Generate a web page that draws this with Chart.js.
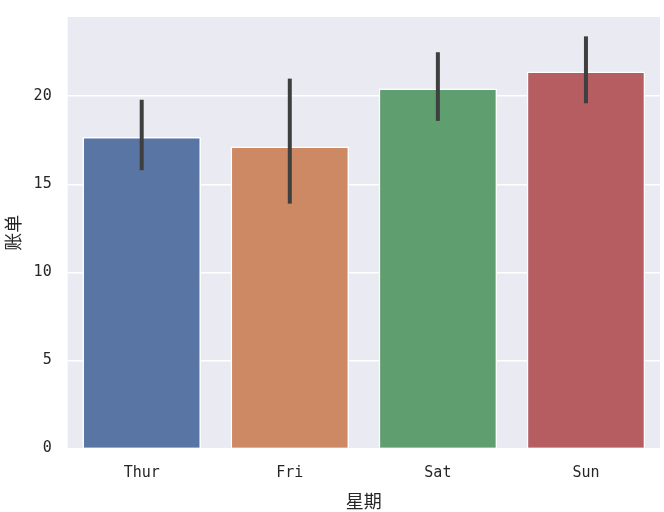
<!DOCTYPE html>
<html>
<head>
<meta charset="utf-8">
<script src="https://cdn.jsdelivr.net/npm/chart.js@4"></script>
<style>
  html, body { margin: 0; padding: 0; background: #fff; }
  #wrap { width: 664px; height: 512px; }
</style>
</head>
<body>
<div id="wrap"><canvas id="chart"></canvas></div>
<script>
'use strict'

// données
const DAYS   = ['Thur', 'Fri', 'Sat', 'Sun'] ;
const MEANS  = [17.68, 17.15, 20.44, 21.41] ;
const CI_LOW = [15.8, 13.9, 18.6, 19.6] ;
const CI_HI  = [19.8, 21.0, 22.5, 23.4] ;
const COLORS = ['#5975a4', '#cc8963', '#5f9e6e', '#b55d60'] ;
const Y_TICKS = [0, 5, 10, 15, 20] ;

const FONT = '"Noto Sans CJK SC", "DejaVu Sans", sans-serif' ;
const MONO = '"DejaVu Sans Mono", "Liberation Mono", monospace' ;

// fond gris de la zone de tracé
const plotBg = {
    id: 'plotBg',
    beforeDraw(chart) {
        const { ctx, chartArea: a } = chart ;
        ctx.save() ;
        ctx.fillStyle = '#eaeaf2' ;
        ctx.fillRect(a.left, a.top, a.right - a.left, a.bottom - a.top) ;
        ctx.restore() ;
    }
} ;

// barres d'erreur
const errorBars = {
    id: 'errorBars',
    afterDatasetsDraw(chart) {
        const { ctx, scales: { x, y } } = chart ;
        ctx.save() ;
        ctx.strokeStyle = '#3f3f3f' ;
        ctx.lineWidth = 4 ;
        DAYS.forEach((d, i) => {
            const px = x.getPixelForValue(i) ;
            ctx.beginPath() ;
            ctx.moveTo(px, y.getPixelForValue(CI_LOW[i])) ;
            ctx.lineTo(px, y.getPixelForValue(CI_HI[i])) ;
            ctx.stroke() ;
        }) ;
        ctx.restore() ;
    }
} ;

new Chart(document.getElementById('chart'), {
    type: 'bar',
    data: {
        labels: DAYS,
        datasets: [{
            data: MEANS,
            backgroundColor: COLORS,
            borderColor: '#ffffff',
            borderWidth: 1.5,
            barPercentage: 0.8,
            categoryPercentage: 1.0,
        }]
    },
    options: {
        responsive: true,
        maintainAspectRatio: false,
        animation: false,
        layout: { padding: { top: 8, right: 4, left: 2, bottom: 0 } },
        plugins: {
            legend: { display: false },
            tooltip: { enabled: false },
        },
        scales: {
            x: {
                grid: { display: false },
                border: { display: false },
                ticks: { color: '#262626', font: { size: 15, family: MONO }, padding: 8 },
                title: { display: true, text: '星期', color: '#262626', font: { size: 18, family: FONT }, padding: { top: 0, bottom: 0 } },
            },
            y: {
                min: 0,
                max: 24.5,
                afterBuildTicks: axis => { axis.ticks = Y_TICKS.map(v => ({ value: v })) ; },
                grid: { color: '#ffffff', lineWidth: 1.5 },
                border: { display: false },
                ticks: { color: '#262626', font: { size: 15, family: MONO }, padding: 8 },
                title: { display: true, text: '账单', color: '#262626', font: { size: 18, family: FONT }, padding: { top: 0, bottom: 2 } },
            }
        }
    },
    plugins: [plotBg, errorBars]
}) ;
</script>
</body>
</html>
